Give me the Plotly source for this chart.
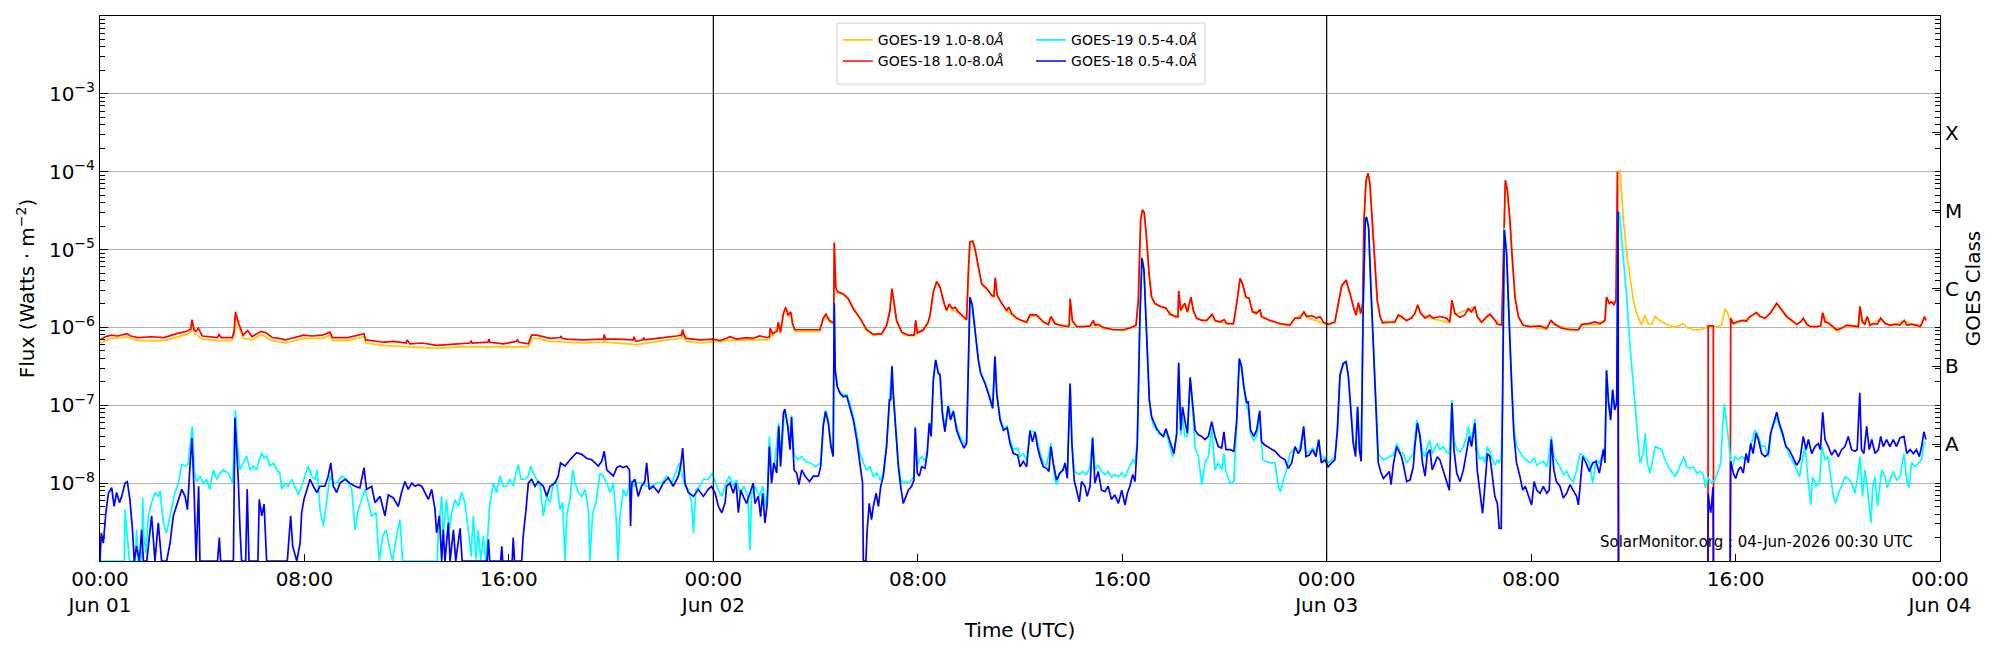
import pandas as pd
import plotly.graph_objects as go

# ---------------------------------------------------------------
# Data: (hours since 2026-06-01 00:00 UTC, log10 flux [W m^-2])
# None marks a data gap.  -9.0 = floor of the plot (values pinned to the bottom edge)
# ---------------------------------------------------------------
START = pd.Timestamp("2026-06-01 00:00")
X_TICK_HOURS = [0, 8, 16, 24, 32, 40, 48, 56, 64, 72]
X_TICK_TEXT = ["00:00<br>Jun 01", "08:00", "16:00", "00:00<br>Jun 02", "08:00", "16:00",
               "00:00<br>Jun 03", "08:00", "16:00", "00:00<br>Jun 04"]
Y_TICK_EXP = [-8, -7, -6, -5, -4, -3]
CLASS_EXP = [-7.5, -6.5, -5.5, -4.5, -3.5]
CLASS_TEXT = ["A", "B", "C", "M", "X"]
DAY_LINES_H = [24, 48]

G19_LONG = [
    (0.00,-6.20),(0.44,-6.14),(1.05,-6.12),(1.50,-6.17),(2.50,-6.17),(3.00,-6.12),(3.40,-6.09),(3.55,-6.06),
    (3.60,-5.94),(3.68,-6.07),(4.00,-6.15),(4.60,-6.17),(5.17,-6.17),(5.25,-6.09),(5.30,-5.84),(5.43,-5.99),
    (5.60,-6.14),(5.95,-6.16),(6.30,-6.09),(6.74,-6.17),(7.27,-6.20),(7.97,-6.14),(8.70,-6.14),(9.00,-6.10),
    (9.10,-6.17),(9.70,-6.17),(10.33,-6.12),(10.40,-6.20),(11.10,-6.23),(12.13,-6.25),(13.17,-6.27),(14.09,-6.25),
    (15.78,-6.25),(16.76,-6.25),(16.89,-6.14),(17.09,-6.14),(17.61,-6.18),(18.26,-6.19),(18.91,-6.20),(19.70,-6.19),
    (19.73,-6.13),(19.78,-6.19),(21.00,-6.22),(22.04,-6.17),(22.56,-6.15),(22.75,-6.14),(22.80,-6.07),(22.85,-6.13),
    (22.93,-6.18),(23.48,-6.20),(24.00,-6.19),(24.52,-6.17),(25.30,-6.16),(26.09,-6.16),(26.20,-6.15),(26.22,-6.04),
    (26.32,-6.11),(26.54,-5.96),(26.63,-6.08),(26.74,-5.84),(26.83,-5.76),(26.93,-5.86),(27.03,-5.82),(27.10,-5.97),
    (27.19,-6.05),(28.17,-6.05),(28.30,-5.90),(28.41,-5.85),(28.54,-5.93),(28.71,-5.96),(28.73,-4.92),(28.79,-5.49),
    (28.85,-5.55),(29.09,-5.58),(29.28,-5.64),(29.48,-5.77),(29.74,-5.89),(30.00,-6.04),(30.26,-6.10),(30.59,-6.09),
    (30.78,-5.98),(30.91,-5.79),(30.99,-5.51),(31.07,-5.70),(31.17,-5.92),(31.37,-6.07),(31.63,-6.11),(31.86,-6.11),
    (31.92,-5.92),(31.98,-6.08),(32.22,-6.04),(32.41,-5.94),(32.48,-5.85),(32.61,-5.55),(32.74,-5.42),(32.87,-5.49),
    (33.03,-5.70),(33.13,-5.79),(33.23,-5.71),(33.35,-5.77),(33.59,-5.81),(33.91,-5.91),(33.98,-5.28),(34.04,-4.91),
    (34.15,-4.90),(34.24,-5.00),(34.37,-5.23),(34.50,-5.45),(34.70,-5.51),(34.98,-5.61),(35.03,-5.37),(35.11,-5.60),
    (35.48,-5.79),(35.87,-5.89),(36.26,-5.94),(36.39,-5.86),(36.65,-5.85),(37.11,-5.97),(37.21,-5.87),(37.37,-5.96),
    (37.89,-6.00),(37.96,-5.64),(38.05,-5.92),(38.22,-6.00),(38.74,-5.99),(38.87,-5.92),(38.93,-5.98),(39.26,-6.01),
    (40.04,-6.04),(40.54,-5.98),(40.63,-5.66),(40.72,-4.63),(40.79,-4.50),(40.86,-4.53),(40.95,-4.85),(41.06,-5.36),
    (41.15,-5.62),(41.28,-5.70),(41.71,-5.76),(42.10,-5.87),(42.18,-5.87),(42.21,-5.54),(42.29,-5.79),(42.45,-5.70),
    (42.55,-5.81),(42.69,-5.62),(42.78,-5.79),(42.91,-5.89),(43.30,-5.92),(43.52,-5.84),(43.63,-5.92),(44.35,-5.96),
    (44.48,-5.70),(44.61,-5.38),(44.71,-5.45),(44.84,-5.62),(44.96,-5.63),(45.10,-5.81),(45.39,-5.78),(45.45,-5.87),
    (46.17,-5.96),(46.56,-5.98),(46.76,-5.89),(47.11,-5.81),(47.22,-5.87),(47.87,-5.94),(48.06,-5.97),(48.32,-5.94),
    (48.45,-5.70),(48.59,-5.47),(48.76,-5.40),(48.91,-5.57),(49.04,-5.74),(49.15,-5.85),(49.24,-5.69),(49.33,-5.83),
    (49.41,-5.70),(49.46,-4.63),(49.54,-4.12),(49.62,-4.03),(49.69,-4.16),(49.79,-4.63),(49.89,-5.19),(49.98,-5.66),
    (50.09,-5.87),(50.19,-5.95),(50.67,-5.94),(50.80,-5.85),(51.13,-5.92),(51.45,-5.83),(51.56,-5.72),(51.68,-5.83),
    (52.17,-5.89),(52.82,-5.94),(52.90,-5.66),(53.02,-5.83),(53.54,-5.77),(53.80,-5.74),(53.89,-5.87),(54.06,-5.94),
    (54.39,-5.84),(54.85,-5.98),(54.91,-5.27),(54.99,-4.12),(55.07,-4.25),(55.17,-4.63),(55.26,-5.11),(55.37,-5.62),
    (55.50,-5.87),(55.69,-5.98),(56.61,-6.02),(56.78,-5.92),(56.93,-5.97),(57.85,-6.04),(57.98,-5.97),(58.70,-5.96),
    (58.89,-5.92),(58.95,-5.62),(59.06,-5.70),(59.32,-5.66),(59.38,-4.02),(59.48,-3.98),(59.61,-4.62),(59.74,-5.05),
    (59.87,-5.35),(60.00,-5.65),(60.13,-5.82),(60.32,-5.97),(60.45,-5.84),(60.58,-5.95),(60.72,-5.96),(60.85,-5.86),
    (61.02,-5.91),(61.30,-5.96),(61.56,-6.00),(61.76,-5.98),(61.96,-5.95),(62.09,-6.00),(62.35,-6.03),(62.61,-6.03),
    (62.87,-6.00),(63.06,-6.00),(63.26,-5.99),(63.46,-5.97),(63.59,-5.76),(63.69,-5.81),(63.81,-5.93),(63.98,-5.95),
    (64.24,-5.92),(64.82,-5.82),(65.15,-5.89),(65.48,-5.77),(65.61,-5.70),(65.71,-5.74),(66.00,-5.87),(66.39,-5.97),
    (66.65,-5.89),(66.94,-6.00),(67.33,-5.99),(67.41,-5.82),(67.63,-5.95),(67.95,-6.05),(68.35,-5.98),(68.80,-6.00),
    (68.87,-5.74),(68.96,-5.94),(69.15,-5.87),(69.26,-5.98),(69.68,-5.89),(70.04,-5.98),(70.60,-5.92),(71.08,-5.98),
    (71.22,-6.00),(71.39,-5.87),(71.45,-5.92),
]

G18_LONG = [
    (0.00,-6.16),(0.20,-6.12),(0.44,-6.10),(0.70,-6.11),(1.05,-6.08),(1.20,-6.11),(1.50,-6.13),(2.00,-6.12),
    (2.50,-6.13),(2.70,-6.11),(3.00,-6.08),(3.40,-6.05),(3.55,-6.02),(3.60,-5.90),(3.68,-6.03),(3.75,-6.05),
    (3.85,-6.01),(4.00,-6.11),(4.30,-6.12),(4.60,-6.13),(4.65,-6.09),(4.75,-6.13),(5.17,-6.13),(5.25,-6.05),
    (5.30,-5.80),(5.43,-5.95),(5.60,-6.10),(5.78,-6.04),(5.95,-6.12),(6.30,-6.05),(6.50,-6.07),(6.74,-6.13),
    (7.00,-6.14),(7.27,-6.16),(7.60,-6.13),(7.97,-6.10),(8.30,-6.11),(8.70,-6.10),(9.00,-6.06),(9.10,-6.13),
    (9.70,-6.13),(10.33,-6.08),(10.40,-6.16),(11.10,-6.19),(11.50,-6.18),(11.98,-6.20),(12.02,-6.16),(12.13,-6.21),
    (12.60,-6.20),(13.17,-6.23),(13.60,-6.22),(14.09,-6.21),(14.48,-6.20),(14.52,-6.17),(14.56,-6.20),(15.18,-6.19),
    (15.22,-6.15),(15.26,-6.19),(15.78,-6.21),(16.28,-6.18),(16.33,-6.16),(16.40,-6.19),(16.76,-6.21),(16.89,-6.10),
    (17.09,-6.10),(17.61,-6.14),(18.00,-6.13),(18.04,-6.11),(18.08,-6.14),(18.26,-6.15),(18.91,-6.16),(19.70,-6.15),
    (19.73,-6.09),(19.78,-6.15),(20.22,-6.15),(20.86,-6.16),(20.90,-6.12),(20.95,-6.17),(21.00,-6.18),(21.24,-6.16),
    (21.28,-6.13),(21.32,-6.16),(21.52,-6.15),(22.04,-6.13),(22.56,-6.11),(22.75,-6.10),(22.80,-6.03),(22.85,-6.09),
    (22.93,-6.14),(23.48,-6.16),(24.00,-6.15),(24.26,-6.17),(24.52,-6.14),(24.65,-6.12),(24.91,-6.15),(25.30,-6.13),
    (25.56,-6.14),(25.82,-6.11),(26.09,-6.13),(26.20,-6.12),(26.22,-6.01),(26.32,-6.08),(26.50,-6.05),(26.54,-5.93),
    (26.63,-6.06),(26.74,-5.82),(26.83,-5.74),(26.93,-5.84),(27.03,-5.80),(27.10,-5.95),(27.19,-6.03),(27.52,-6.03),
    (28.17,-6.03),(28.30,-5.88),(28.41,-5.83),(28.54,-5.91),(28.67,-5.94),(28.71,-5.94),(28.73,-4.91),(28.79,-5.48),
    (28.85,-5.54),(29.09,-5.57),(29.28,-5.63),(29.48,-5.76),(29.74,-5.88),(30.00,-6.03),(30.26,-6.09),(30.59,-6.08),
    (30.78,-5.97),(30.91,-5.78),(30.99,-5.50),(31.07,-5.69),(31.17,-5.91),(31.37,-6.06),(31.63,-6.10),(31.86,-6.10),
    (31.92,-5.91),(31.98,-6.07),(32.22,-6.03),(32.41,-5.93),(32.48,-5.84),(32.61,-5.54),(32.74,-5.41),(32.87,-5.48),
    (33.03,-5.69),(33.13,-5.78),(33.23,-5.70),(33.35,-5.76),(33.46,-5.74),(33.59,-5.80),(33.78,-5.86),(33.91,-5.90),
    (33.98,-5.27),(34.04,-4.90),(34.15,-4.89),(34.24,-4.99),(34.37,-5.22),(34.50,-5.44),(34.70,-5.50),(34.89,-5.59),
    (34.98,-5.60),(35.03,-5.36),(35.11,-5.59),(35.28,-5.69),(35.48,-5.78),(35.57,-5.74),(35.67,-5.82),(35.87,-5.88),
    (36.06,-5.91),(36.26,-5.93),(36.39,-5.84),(36.65,-5.84),(36.91,-5.93),(37.11,-5.96),(37.21,-5.86),(37.37,-5.95),
    (37.56,-5.97),(37.89,-5.99),(37.93,-5.97),(37.96,-5.63),(38.05,-5.91),(38.22,-5.99),(38.48,-5.99),(38.74,-5.98),
    (38.87,-5.91),(38.93,-5.97),(39.06,-5.96),(39.26,-6.00),(39.65,-6.03),(40.04,-6.03),(40.37,-6.00),(40.54,-5.97),
    (40.63,-5.65),(40.72,-4.62),(40.79,-4.49),(40.86,-4.52),(40.95,-4.84),(41.06,-5.35),(41.15,-5.61),(41.28,-5.69),
    (41.48,-5.73),(41.71,-5.75),(41.87,-5.83),(42.10,-5.86),(42.18,-5.86),(42.21,-5.53),(42.29,-5.78),(42.36,-5.73),
    (42.45,-5.69),(42.55,-5.80),(42.69,-5.61),(42.78,-5.78),(42.91,-5.88),(43.11,-5.91),(43.30,-5.91),(43.52,-5.83),
    (43.63,-5.91),(43.82,-5.93),(43.99,-5.90),(44.09,-5.95),(44.35,-5.95),(44.48,-5.69),(44.61,-5.37),(44.71,-5.44),
    (44.84,-5.61),(44.96,-5.62),(45.10,-5.80),(45.26,-5.82),(45.39,-5.77),(45.45,-5.86),(45.78,-5.91),(46.17,-5.95),
    (46.56,-5.97),(46.76,-5.88),(46.96,-5.88),(47.11,-5.80),(47.22,-5.86),(47.41,-5.85),(47.61,-5.88),(47.74,-5.86),
    (47.87,-5.93),(48.06,-5.96),(48.32,-5.93),(48.45,-5.69),(48.59,-5.46),(48.76,-5.39),(48.89,-5.52),(48.91,-5.56),
    (49.04,-5.73),(49.15,-5.84),(49.24,-5.68),(49.33,-5.82),(49.41,-5.69),(49.46,-4.62),(49.54,-4.11),(49.62,-4.02),
    (49.69,-4.15),(49.79,-4.62),(49.89,-5.18),(49.98,-5.65),(50.09,-5.86),(50.19,-5.94),(50.35,-5.93),(50.67,-5.93),
    (50.80,-5.84),(50.93,-5.86),(51.13,-5.91),(51.32,-5.88),(51.45,-5.82),(51.56,-5.71),(51.68,-5.82),(51.85,-5.88),
    (52.02,-5.84),(52.17,-5.88),(52.43,-5.86),(52.69,-5.88),(52.82,-5.93),(52.90,-5.65),(53.02,-5.82),(53.22,-5.87),
    (53.41,-5.84),(53.54,-5.76),(53.67,-5.80),(53.80,-5.73),(53.89,-5.86),(54.06,-5.93),(54.26,-5.86),(54.39,-5.83),
    (54.52,-5.88),(54.68,-5.96),(54.85,-5.97),(54.91,-5.26),(54.99,-4.11),(55.07,-4.24),(55.17,-4.62),(55.26,-5.10),
    (55.37,-5.61),(55.50,-5.86),(55.69,-5.97),(55.96,-5.99),(56.35,-5.98),(56.61,-6.01),(56.78,-5.91),(56.93,-5.96),
    (57.19,-6.01),(57.52,-6.03),(57.85,-6.03),(57.98,-5.96),(58.24,-5.95),(58.50,-5.93),(58.70,-5.95),(58.89,-5.91),
    (58.95,-5.61),(59.06,-5.69),(59.15,-5.67),(59.24,-5.71),(59.32,-5.65),(59.38,-4.00),(59.42,-9.00),(59.43,None),
    (62.92,-9.00),(62.93,-5.98),(63.13,-5.98),(63.14,-9.00),(63.15,None),
    (63.79,-9.00),(63.81,-5.88),(63.91,-5.95),(64.04,-5.93),(64.24,-5.91),(64.43,-5.92),(64.56,-5.86),(64.69,-5.84),
    (64.82,-5.81),(64.96,-5.86),(65.15,-5.88),(65.35,-5.82),(65.48,-5.76),(65.61,-5.69),(65.71,-5.73),(65.87,-5.80),
    (66.00,-5.86),(66.20,-5.91),(66.39,-5.96),(66.55,-5.93),(66.65,-5.88),(66.78,-5.96),(66.94,-5.99),(67.17,-5.99),
    (67.33,-5.98),(67.41,-5.81),(67.50,-5.93),(67.63,-5.94),(67.80,-5.99),(67.95,-6.03),(68.15,-6.01),(68.35,-5.97),
    (68.61,-5.98),(68.80,-5.99),(68.87,-5.73),(68.96,-5.93),(69.06,-5.96),(69.15,-5.86),(69.26,-5.97),(69.39,-5.95),
    (69.55,-5.96),(69.68,-5.88),(69.85,-5.95),(70.04,-5.97),(70.24,-5.96),(70.43,-5.97),(70.60,-5.91),(70.70,-5.97),
    (70.89,-5.96),(71.08,-5.97),(71.22,-5.99),(71.32,-5.93),(71.39,-5.86),(71.45,-5.91),
]

G19_SHORT = [
    (0.00,-9.00),(0.95,-9.00),(0.98,-8.34),(1.04,-8.60),(1.15,-9.00),(1.38,-9.00),(1.43,-8.60),(1.50,-9.00),
    (1.63,-9.00),(1.67,-8.19),(1.72,-8.70),(1.80,-8.90),(1.89,-8.42),(2.02,-8.25),(2.15,-8.12),(2.28,-8.17),
    (2.35,-8.10),(2.48,-8.51),(2.60,-8.64),(2.74,-8.42),(2.93,-8.12),(3.07,-8.00),(3.20,-7.76),(3.37,-7.78),
    (3.46,-7.74),(3.55,-7.44),(3.61,-7.27),(3.69,-7.83),(3.78,-7.98),(3.91,-7.91),(4.04,-8.00),(4.17,-7.95),
    (4.30,-8.08),(4.43,-7.83),(4.57,-7.95),(4.70,-7.87),(4.83,-7.83),(5.02,-7.87),(5.19,-8.00),(5.30,-7.06),
    (5.37,-7.48),(5.48,-7.83),(5.61,-7.74),(5.74,-7.65),(5.87,-7.83),(6.00,-7.78),(6.13,-7.83),(6.23,-7.70),
    (6.33,-7.61),(6.42,-7.68),(6.52,-7.65),(6.65,-7.78),(6.78,-7.74),(6.91,-7.83),(7.04,-7.87),(7.11,-8.08),
    (7.24,-8.00),(7.37,-8.04),(7.50,-7.95),(7.63,-8.04),(7.76,-8.15),(7.89,-8.04),(8.02,-7.91),(8.15,-7.78),
    (8.28,-7.91),(8.41,-7.95),(8.50,-7.83),(8.61,-8.34),(8.74,-8.55),(8.87,-8.25),(9.00,-7.91),(9.13,-8.00),
    (9.26,-8.00),(9.46,-7.91),(9.65,-7.95),(9.85,-8.08),(9.98,-8.60),(10.11,-8.34),(10.24,-8.21),(10.37,-8.08),
    (10.50,-8.25),(10.63,-8.42),(10.80,-8.38),(10.93,-9.00),(11.06,-8.68),(11.19,-8.60),(11.32,-8.81),(11.45,-9.00),
    (11.60,-8.68),(11.74,-8.47),(11.84,-9.00),(13.20,-9.00),(13.24,-8.60),(13.37,-8.17),(13.43,-8.68),(13.56,-8.21),
    (13.66,-8.60),(13.76,-8.38),(13.89,-8.21),(14.02,-8.30),(14.15,-8.12),(14.28,-8.25),(14.41,-8.60),(14.52,-8.94),
    (14.61,-8.42),(14.71,-8.98),(14.80,-8.60),(14.90,-9.00),(15.00,-8.68),(15.10,-9.00),(15.26,-8.25),(15.39,-8.00),
    (15.52,-8.12),(15.65,-7.91),(15.78,-8.04),(15.91,-8.04),(16.04,-7.95),(16.17,-8.04),(16.28,-7.87),(16.37,-7.76),
    (16.47,-7.95),(16.63,-7.95),(16.76,-7.91),(16.85,-7.78),(16.96,-7.87),(17.09,-7.95),(17.22,-8.04),(17.35,-8.42),
    (17.48,-8.17),(17.61,-8.25),(17.74,-8.00),(17.87,-7.98),(18.00,-8.34),(18.10,-8.25),(18.20,-9.00),(18.26,-8.42),
    (18.39,-8.21),(18.50,-7.83),(18.59,-8.00),(18.72,-8.12),(18.85,-8.17),(18.98,-8.08),(19.11,-8.34),(19.17,-9.00),
    (19.28,-8.38),(19.41,-8.25),(19.56,-7.87),(19.69,-7.91),(19.83,-8.00),(19.96,-8.12),(20.09,-8.00),(20.19,-8.42),
    (20.27,-9.00),(20.35,-8.42),(20.48,-8.08),(20.61,-8.17),(20.74,-7.95),(20.87,-8.04),(21.00,-8.00),(21.19,-8.00),
    (21.39,-8.04),(21.59,-8.04),(21.78,-8.00),(21.98,-8.00),(22.17,-7.91),(22.37,-8.00),(22.56,-7.83),(22.67,-7.74),
    (22.76,-7.87),(22.89,-8.04),(23.02,-8.08),(23.15,-8.25),(23.22,-8.64),(23.32,-8.08),(23.48,-8.04),(23.61,-7.95),
    (23.80,-7.95),(23.97,-7.87),(24.13,-8.04),(24.33,-8.17),(24.46,-8.04),(24.62,-7.91),(24.78,-8.04),(24.91,-7.96),
    (25.04,-8.13),(25.20,-8.04),(25.35,-8.17),(25.43,-8.86),(25.50,-8.13),(25.63,-8.04),(25.80,-8.17),(25.93,-8.04),
    (26.05,-8.30),(26.12,-8.09),(26.19,-7.40),(26.30,-7.87),(26.40,-7.74),(26.56,-7.23),(26.65,-7.74),(26.78,-7.06),
    (26.93,-7.27),(27.00,-7.53),(27.06,-7.13),(27.16,-7.62),(27.30,-7.70),(27.45,-7.66),(27.60,-7.72),(27.80,-7.74),
    (28.00,-7.79),(28.20,-7.74),(28.30,-7.23),(28.39,-7.06),(28.50,-7.19),(28.60,-7.49),(28.69,-7.57),(28.73,-5.70),
    (28.77,-6.55),(28.85,-6.76),(28.96,-6.83),(29.09,-6.87),(29.22,-6.86),(29.35,-6.98),(29.48,-7.15),(29.61,-7.36),
    (29.74,-7.62),(29.87,-7.74),(30.00,-7.83),(30.13,-7.79),(30.26,-7.91),(30.40,-7.87),(30.52,-7.96),(30.65,-7.87),
    (30.78,-7.49),(30.89,-6.91),(30.99,-6.49),(31.04,-6.83),(31.15,-7.40),(31.24,-7.74),(31.33,-7.96),(31.43,-8.00),
    (31.54,-7.98),(31.63,-8.00),(31.76,-7.96),(31.85,-7.91),(31.90,-7.27),(31.98,-7.79),(32.06,-7.70),(32.15,-7.66),
    (32.28,-7.72),(32.37,-7.57),(32.45,-7.23),(32.52,-7.36),(32.61,-6.65),(32.70,-6.41),(32.80,-6.57),(32.87,-6.59),
    (32.96,-7.06),(33.06,-7.30),(33.19,-6.99),(33.28,-7.15),(33.39,-7.06),(33.52,-7.27),(33.65,-7.40),(33.81,-7.49),
    (33.91,-7.47),(33.98,-6.55),(34.04,-5.62),(34.13,-5.72),(34.24,-6.03),(34.37,-6.41),(34.46,-6.58),(34.63,-6.70),
    (34.80,-6.87),(34.93,-7.02),(35.02,-6.38),(35.09,-6.83),(35.22,-7.15),(35.35,-7.30),(35.50,-7.27),(35.61,-7.45),
    (35.74,-7.57),(35.91,-7.55),(36.00,-7.66),(36.13,-7.62),(36.26,-7.70),(36.39,-7.32),(36.52,-7.34),(36.63,-7.38),
    (36.75,-7.57),(36.91,-7.74),(37.04,-7.77),(37.21,-7.49),(37.30,-7.74),(37.37,-7.96),(37.43,-8.02),(37.56,-7.87),
    (37.76,-7.77),(37.85,-7.89),(37.96,-6.72),(38.03,-7.45),(38.12,-7.85),(38.22,-7.87),(38.32,-7.89),(38.45,-7.85),
    (38.60,-7.89),(38.74,-7.79),(38.84,-7.40),(38.93,-7.83),(39.06,-7.77),(39.19,-7.85),(39.32,-7.89),(39.45,-7.85),
    (39.58,-7.92),(39.71,-7.89),(39.85,-7.92),(39.98,-7.87),(40.11,-7.92),(40.20,-7.85),(40.30,-7.77),(40.41,-7.70),
    (40.50,-7.74),(40.59,-7.45),(40.69,-5.90),(40.77,-5.10),(40.85,-5.25),(40.95,-6.10),(41.06,-6.92),(41.15,-7.17),
    (41.24,-7.27),(41.35,-7.32),(41.48,-7.38),(41.61,-7.40),(41.71,-7.32),(41.80,-7.45),(41.97,-7.66),(42.02,-7.62),
    (42.13,-7.40),(42.21,-6.47),(42.29,-7.38),(42.36,-7.15),(42.45,-7.40),(42.55,-7.40),(42.66,-6.66),(42.76,-7.06),
    (42.85,-7.55),(42.98,-7.66),(43.11,-8.02),(43.24,-7.74),(43.37,-7.66),(43.50,-7.30),(43.63,-7.83),(43.76,-7.74),
    (43.89,-7.83),(43.98,-7.62),(44.06,-7.85),(44.22,-8.00),(44.37,-7.98),(44.48,-7.21),(44.58,-6.42),(44.67,-6.55),
    (44.76,-6.80),(44.87,-7.02),(44.93,-7.06),(45.02,-7.36),(45.15,-7.45),(45.26,-7.40),(45.38,-7.15),(45.50,-7.70),
    (45.60,-7.72),(45.78,-7.74),(45.98,-7.74),(46.10,-8.04),(46.20,-8.11),(46.30,-7.96),(46.43,-7.83),(46.56,-7.62),
    (46.76,-7.55),(46.89,-7.62),(47.10,-7.30),(47.19,-7.62),(47.32,-7.60),(47.45,-7.55),(47.58,-7.62),(47.69,-7.45),
    (47.79,-7.70),(47.93,-7.66),(48.06,-7.74),(48.19,-7.70),(48.32,-7.66),(48.42,-7.30),(48.52,-6.62),(48.65,-6.47),
    (48.76,-6.45),(48.85,-6.62),(48.95,-7.13),(49.04,-7.45),(49.13,-7.60),(49.21,-7.02),(49.28,-7.53),(49.35,-7.66),
    (49.43,-5.72),(49.51,-4.64),(49.56,-4.60),(49.64,-4.73),(49.73,-5.50),(49.82,-6.13),(49.93,-6.95),(50.02,-7.62),
    (50.11,-7.66),(50.22,-7.70),(50.35,-7.68),(50.45,-7.66),(50.61,-7.64),(50.74,-7.49),(50.87,-7.60),(51.00,-7.62),
    (51.13,-7.74),(51.26,-7.68),(51.39,-7.62),(51.45,-7.45),(51.52,-7.19),(51.65,-7.36),(51.75,-7.60),(51.85,-7.66),
    (51.94,-7.53),(52.04,-7.45),(52.13,-7.62),(52.24,-7.55),(52.33,-7.49),(52.43,-7.57),(52.56,-7.53),(52.69,-7.60),
    (52.80,-7.62),(52.90,-6.93),(52.98,-7.45),(53.09,-7.57),(53.22,-7.60),(53.35,-7.53),(53.48,-7.40),(53.54,-7.27),
    (53.67,-7.45),(53.80,-7.17),(53.89,-7.57),(54.00,-7.70),(54.10,-7.66),(54.19,-7.74),(54.29,-7.53),(54.39,-7.60),
    (54.49,-7.70),(54.58,-7.77),(54.68,-7.70),(54.75,-7.74),(54.83,-7.66),(54.89,-6.95),(54.95,-4.72),(55.04,-5.03),
    (55.13,-5.88),(55.24,-6.72),(55.33,-7.32),(55.43,-7.53),(55.56,-7.60),(55.67,-7.66),(55.80,-7.70),(55.96,-7.74),
    (56.12,-7.68),(56.22,-7.77),(56.35,-7.74),(56.48,-7.72),(56.61,-7.79),(56.71,-7.62),(56.79,-7.40),(56.89,-7.66),
    (57.00,-7.72),(57.13,-7.79),(57.26,-7.89),(57.39,-7.85),(57.52,-7.94),(57.65,-7.98),(57.78,-7.83),(57.91,-7.62),
    (58.02,-7.64),(58.15,-7.68),(58.28,-7.74),(58.41,-8.00),(58.54,-7.70),(58.67,-7.74),(58.76,-7.66),(58.83,-7.55),
    (58.89,-7.62),(58.95,-6.55),(59.03,-6.95),(59.11,-7.15),(59.19,-6.80),(59.27,-7.02),(59.35,-6.95),(59.40,-4.55),
    (59.45,-4.52),(59.58,-4.97),(59.74,-5.61),(59.84,-6.12),(59.93,-6.47),(60.06,-6.97),(60.17,-7.36),(60.26,-7.74),
    (60.39,-7.62),(60.46,-7.36),(60.55,-7.74),(60.65,-7.87),(60.76,-7.70),(60.85,-7.53),(60.98,-7.55),(61.11,-7.57),
    (61.24,-7.70),(61.37,-7.79),(61.50,-7.85),(61.63,-7.92),(61.76,-7.83),(61.89,-7.74),(61.98,-7.66),(62.09,-7.79),
    (62.22,-7.81),(62.35,-7.79),(62.48,-7.87),(62.61,-7.85),(62.74,-7.89),(62.82,-8.06),(62.93,-7.92),(63.06,-8.00),
    (63.19,-7.96),(63.33,-7.83),(63.42,-7.74),(63.48,-7.36),(63.56,-6.98),(63.65,-7.23),(63.76,-7.53),(63.85,-7.83),
    (63.98,-7.66),(64.11,-7.70),(64.24,-7.66),(64.43,-7.70),(64.56,-7.57),(64.76,-7.32),(64.85,-7.36),(65.02,-7.53),
    (65.15,-7.52),(65.28,-7.66),(65.41,-7.32),(65.61,-7.15),(65.80,-7.36),(65.97,-7.53),(66.13,-7.66),(66.28,-7.74),
    (66.39,-7.83),(66.50,-7.92),(66.59,-7.74),(66.72,-7.53),(66.81,-7.87),(66.89,-8.15),(66.94,-8.28),(67.02,-7.92),
    (67.15,-8.04),(67.28,-8.00),(67.38,-7.53),(67.50,-7.70),(67.63,-7.66),(67.72,-7.92),(67.83,-8.17),(67.92,-8.26),
    (68.02,-8.13),(68.15,-8.04),(68.28,-7.92),(68.41,-7.94),(68.54,-8.00),(68.67,-8.13),(68.76,-7.96),(68.87,-7.66),
    (68.97,-8.17),(69.06,-7.83),(69.15,-8.04),(69.23,-8.30),(69.30,-8.51),(69.37,-8.04),(69.46,-7.92),(69.55,-8.30),
    (69.63,-8.09),(69.72,-7.83),(69.85,-7.92),(69.94,-8.06),(70.04,-7.96),(70.17,-7.85),(70.30,-7.96),(70.43,-7.92),
    (70.59,-7.62),(70.70,-7.96),(70.78,-8.06),(70.89,-7.74),(71.02,-7.79),(71.15,-7.74),(71.28,-7.70),(71.37,-7.49),
    (71.45,-7.47),
]

G18_SHORT = [
    (0.00,-9.00),(0.05,-8.64),(0.13,-8.77),(0.23,-8.38),(0.33,-8.13),(0.46,-8.06),(0.55,-8.30),(0.65,-8.12),
    (0.76,-8.25),(0.85,-8.17),(0.98,-8.00),(1.07,-7.98),(1.17,-8.21),(1.27,-8.60),(1.34,-9.00),(1.43,-8.81),
    (1.54,-9.00),(1.63,-8.60),(1.70,-9.00),(1.83,-9.00),(2.02,-8.42),(2.15,-9.00),(2.28,-8.51),(2.41,-9.00),
    (2.61,-9.00),(2.74,-8.77),(2.87,-8.42),(3.03,-8.25),(3.20,-8.08),(3.33,-8.17),(3.42,-8.34),(3.52,-7.78),
    (3.60,-7.42),(3.68,-8.08),(3.76,-9.00),(3.86,-8.04),(3.91,-9.00),(4.60,-9.00),(4.67,-8.70),(4.72,-9.00),
    (5.22,-9.00),(5.28,-7.16),(5.35,-7.53),(5.41,-7.95),(5.48,-8.60),(5.54,-9.00),(5.70,-9.00),(5.76,-8.08),
    (5.83,-9.00),(6.18,-9.00),(6.23,-8.21),(6.33,-8.42),(6.42,-8.27),(6.52,-9.00),(7.33,-9.00),(7.46,-8.42),
    (7.54,-8.81),(7.70,-9.00),(7.83,-8.77),(7.89,-8.38),(7.98,-8.21),(8.09,-8.08),(8.22,-7.95),(8.35,-8.04),
    (8.48,-8.12),(8.61,-8.04),(8.80,-8.04),(8.93,-7.91),(9.03,-7.74),(9.13,-8.04),(9.26,-8.12),(9.39,-8.00),
    (9.59,-7.95),(9.78,-8.00),(9.98,-8.04),(10.17,-8.06),(10.33,-7.80),(10.43,-8.08),(10.63,-8.04),(10.76,-8.25),
    (10.96,-8.17),(11.15,-8.42),(11.28,-8.15),(11.48,-8.19),(11.67,-8.30),(11.80,-8.12),(11.93,-7.98),(12.06,-8.08),
    (12.20,-8.00),(12.33,-8.04),(12.46,-8.02),(12.59,-8.04),(12.72,-8.12),(12.85,-8.21),(12.98,-8.08),(13.11,-8.34),
    (13.17,-8.64),(13.28,-8.42),(13.37,-9.00),(13.43,-8.60),(13.50,-9.00),(13.63,-8.51),(13.70,-9.00),(13.83,-8.60),
    (13.92,-9.00),(14.09,-8.58),(14.17,-9.00),(15.15,-9.00),(15.20,-8.72),(15.25,-9.00),(15.68,-9.00),(15.72,-8.81),
    (15.76,-9.00),(16.13,-9.00),(16.17,-8.70),(16.22,-9.00),(16.50,-9.00),(16.56,-8.68),(16.67,-8.34),(16.76,-8.00),
    (16.89,-7.95),(17.02,-8.04),(17.15,-7.98),(17.35,-8.04),(17.48,-8.17),(17.61,-8.04),(17.80,-8.00),(17.93,-7.91),
    (18.02,-7.74),(18.20,-7.78),(18.39,-7.70),(18.52,-7.65),(18.65,-7.61),(18.85,-7.63),(19.04,-7.68),(19.24,-7.70),
    (19.37,-7.74),(19.50,-7.78),(19.63,-7.72),(19.73,-7.59),(19.83,-7.83),(19.96,-7.87),(20.09,-7.91),(20.22,-7.80),
    (20.35,-7.78),(20.48,-7.80),(20.61,-7.78),(20.72,-7.83),(20.76,-8.55),(20.81,-8.00),(20.93,-7.95),(21.06,-8.17),
    (21.19,-8.04),(21.32,-7.98),(21.39,-7.74),(21.49,-8.08),(21.65,-8.04),(21.85,-8.12),(22.04,-8.00),(22.24,-7.93),
    (22.43,-8.04),(22.63,-7.91),(22.72,-7.78),(22.80,-7.55),(22.89,-8.00),(23.02,-8.12),(23.22,-8.17),(23.41,-8.08),
    (23.61,-8.17),(23.80,-8.08),(23.93,-8.04),(24.06,-8.12),(24.20,-8.30),(24.33,-8.38),(24.46,-8.25),(24.52,-8.04),
    (24.65,-8.00),(24.78,-8.13),(24.89,-8.00),(24.98,-8.38),(25.07,-8.09),(25.17,-8.17),(25.30,-8.26),(25.43,-8.13),
    (25.56,-8.00),(25.63,-8.26),(25.76,-8.17),(25.85,-8.43),(25.93,-8.13),(26.02,-8.51),(26.11,-8.26),(26.19,-7.53),
    (26.28,-8.00),(26.37,-7.74),(26.48,-7.87),(26.56,-7.27),(26.63,-7.79),(26.74,-7.10),(26.80,-7.05),(26.91,-7.27),
    (27.00,-7.57),(27.06,-7.15),(27.16,-7.83),(27.26,-7.87),(27.35,-8.02),(27.46,-7.83),(27.59,-7.91),(27.76,-7.98),
    (27.91,-7.91),(28.11,-7.91),(28.20,-7.79),(28.30,-7.27),(28.39,-7.08),(28.50,-7.23),(28.60,-7.53),(28.69,-7.66),
    (28.73,-5.69),(28.77,-6.55),(28.85,-6.76),(28.96,-6.85),(29.09,-6.89),(29.22,-6.88),(29.35,-7.02),(29.48,-7.19),
    (29.61,-7.44),(29.74,-7.79),(29.84,-8.00),(29.87,-9.00),(29.97,-9.00),(30.02,-8.60),(30.10,-8.26),(30.19,-8.47),
    (30.26,-8.30),(30.37,-8.13),(30.46,-8.30),(30.55,-8.04),(30.65,-7.91),(30.78,-7.53),(30.89,-6.93),(30.94,-6.93),
    (30.99,-6.50),(31.04,-6.85),(31.15,-7.44),(31.24,-7.79),(31.33,-8.04),(31.43,-8.26),(31.54,-8.17),(31.63,-8.09),
    (31.76,-8.04),(31.85,-7.96),(31.90,-7.29),(31.98,-7.87),(32.06,-7.91),(32.15,-7.79),(32.28,-7.81),(32.37,-7.62),
    (32.45,-7.23),(32.52,-7.40),(32.61,-6.67),(32.70,-6.42),(32.80,-6.59),(32.87,-6.61),(32.96,-7.10),(33.06,-7.34),
    (33.19,-7.01),(33.28,-7.19),(33.39,-7.08),(33.52,-7.32),(33.65,-7.44),(33.81,-7.55),(33.91,-7.49),(33.98,-6.55),
    (34.04,-5.61),(34.13,-5.71),(34.24,-6.03),(34.37,-6.42),(34.46,-6.59),(34.63,-6.72),(34.80,-6.89),(34.93,-7.04),
    (35.02,-6.37),(35.09,-6.85),(35.22,-7.19),(35.35,-7.32),(35.50,-7.29),(35.61,-7.49),(35.74,-7.62),(35.91,-7.64),
    (36.00,-7.79),(36.13,-7.72),(36.26,-7.79),(36.39,-7.33),(36.49,-7.47),(36.59,-7.34),(36.68,-7.53),(36.78,-7.66),
    (36.91,-7.79),(37.04,-7.81),(37.13,-7.85),(37.21,-7.53),(37.30,-7.74),(37.43,-7.96),(37.56,-7.87),(37.69,-7.83),
    (37.76,-7.74),(37.85,-7.94),(37.96,-6.72),(38.03,-7.49),(38.12,-7.96),(38.22,-8.09),(38.32,-8.24),(38.41,-7.98),
    (38.54,-8.04),(38.63,-8.17),(38.74,-8.04),(38.84,-7.42),(38.93,-8.00),(39.06,-7.85),(39.19,-8.09),(39.32,-8.11),
    (39.45,-8.04),(39.58,-8.21),(39.71,-8.15),(39.85,-8.26),(39.98,-8.09),(40.11,-8.28),(40.20,-8.13),(40.30,-8.04),
    (40.41,-7.89),(40.50,-7.98),(40.59,-7.49),(40.69,-5.91),(40.77,-5.11),(40.85,-5.26),(40.95,-6.12),(41.06,-6.93),
    (41.15,-7.15),(41.24,-7.23),(41.35,-7.30),(41.48,-7.36),(41.61,-7.40),(41.71,-7.30),(41.80,-7.40),(41.93,-7.53),
    (42.02,-7.62),(42.13,-7.36),(42.21,-6.45),(42.29,-7.32),(42.36,-7.02),(42.45,-7.19),(42.55,-7.36),(42.66,-6.64),
    (42.76,-6.97),(42.85,-7.32),(42.98,-7.38),(43.11,-7.40),(43.24,-7.44),(43.37,-7.40),(43.50,-7.21),(43.63,-7.40),
    (43.76,-7.53),(43.89,-7.55),(43.98,-7.34),(44.06,-7.57),(44.22,-7.57),(44.37,-7.59),(44.48,-7.19),(44.58,-6.40),
    (44.67,-6.50),(44.76,-6.76),(44.87,-6.97),(44.93,-6.95),(45.02,-7.32),(45.15,-7.40),(45.26,-7.32),(45.38,-7.07),
    (45.45,-7.47),(45.58,-7.51),(45.78,-7.55),(45.98,-7.59),(46.17,-7.66),(46.37,-7.70),(46.50,-7.81),(46.63,-7.74),
    (46.76,-7.53),(46.89,-7.62),(46.98,-7.57),(47.10,-7.27),(47.19,-7.66),(47.32,-7.64),(47.45,-7.57),(47.58,-7.66),
    (47.69,-7.44),(47.79,-7.74),(47.93,-7.70),(48.06,-7.79),(48.19,-7.74),(48.32,-7.70),(48.42,-7.32),(48.52,-6.61),
    (48.65,-6.46),(48.76,-6.44),(48.85,-6.63),(48.95,-7.15),(49.04,-7.49),(49.13,-7.66),(49.21,-7.02),(49.28,-7.57),
    (49.35,-7.72),(49.43,-5.69),(49.51,-4.62),(49.56,-4.58),(49.64,-4.71),(49.73,-5.48),(49.82,-6.12),(49.93,-6.97),
    (50.02,-7.74),(50.11,-7.85),(50.22,-7.94),(50.35,-7.89),(50.45,-7.85),(50.52,-8.02),(50.61,-7.76),(50.74,-7.53),
    (50.85,-7.62),(50.93,-7.66),(51.02,-7.79),(51.13,-7.98),(51.26,-7.96),(51.39,-7.79),(51.45,-7.53),(51.55,-7.23),
    (51.65,-7.40),(51.75,-7.74),(51.85,-7.91),(51.94,-7.62),(52.04,-7.57),(52.13,-7.83),(52.24,-7.74),(52.33,-7.66),
    (52.43,-7.70),(52.56,-7.83),(52.69,-7.96),(52.80,-8.09),(52.90,-6.97),(52.98,-7.57),(53.09,-7.87),(53.22,-7.98),
    (53.35,-7.83),(53.48,-7.57),(53.58,-7.40),(53.67,-7.53),(53.80,-7.23),(53.89,-7.83),(54.00,-8.09),(54.10,-8.39),
    (54.19,-8.04),(54.29,-7.62),(54.39,-7.66),(54.49,-7.91),(54.58,-8.17),(54.68,-8.26),(54.75,-8.58),(54.83,-8.58),
    (54.89,-6.97),(54.95,-4.75),(55.04,-5.05),(55.13,-5.91),(55.24,-6.76),(55.33,-7.40),(55.43,-7.74),(55.56,-7.91),
    (55.67,-8.09),(55.77,-8.04),(55.89,-8.17),(56.02,-8.28),(56.12,-7.98),(56.22,-8.09),(56.35,-8.13),(56.48,-8.04),
    (56.61,-8.13),(56.71,-8.09),(56.79,-7.44),(56.89,-7.83),(56.99,-7.98),(57.13,-8.04),(57.26,-8.19),(57.39,-8.13),
    (57.52,-8.02),(57.65,-8.09),(57.78,-8.17),(57.85,-8.28),(57.91,-8.04),(58.02,-7.66),(58.15,-7.74),(58.28,-7.85),
    (58.41,-7.74),(58.54,-7.72),(58.67,-7.87),(58.76,-7.70),(58.83,-7.57),(58.89,-7.74),(58.95,-6.55),(59.03,-6.97),
    (59.11,-7.19),(59.19,-6.80),(59.27,-7.06),(59.35,-6.97),(59.40,-4.51),(59.42,-9.00),(59.43,None),
    (62.92,-9.00),(62.93,-8.13),(62.98,-8.30),(63.03,-8.38),(63.08,-8.20),(63.12,-8.05),(63.13,-9.00),(63.14,None),
    (63.79,-9.00),(63.81,-7.72),(63.91,-7.87),(64.00,-7.94),(64.11,-7.83),(64.20,-7.79),(64.30,-7.87),(64.41,-7.62),
    (64.50,-7.74),(64.59,-7.49),(64.69,-7.62),(64.80,-7.36),(64.89,-7.44),(65.02,-7.62),(65.15,-7.66),(65.28,-7.62),
    (65.37,-7.36),(65.48,-7.23),(65.61,-7.09),(65.71,-7.23),(65.84,-7.36),(65.97,-7.53),(66.10,-7.57),(66.23,-7.66),
    (66.39,-7.77),(66.52,-7.70),(66.65,-7.40),(66.76,-7.57),(66.85,-7.44),(66.98,-7.62),(67.11,-7.53),(67.24,-7.49),
    (67.32,-7.57),(67.41,-7.09),(67.50,-7.44),(67.63,-7.53),(67.76,-7.64),(67.89,-7.57),(68.02,-7.66),(68.15,-7.57),
    (68.28,-7.53),(68.41,-7.40),(68.54,-7.57),(68.67,-7.59),(68.76,-7.57),(68.86,-6.84),(68.93,-7.57),(69.02,-7.62),
    (69.13,-7.27),(69.23,-7.57),(69.33,-7.44),(69.46,-7.62),(69.59,-7.57),(69.68,-7.40),(69.78,-7.53),(69.91,-7.44),
    (70.04,-7.53),(70.17,-7.44),(70.30,-7.53),(70.43,-7.42),(70.59,-7.40),(70.70,-7.62),(70.83,-7.57),(70.96,-7.62),
    (71.08,-7.57),(71.19,-7.66),(71.28,-7.53),(71.37,-7.34),(71.45,-7.44),
]

# (label, data, colour, legend, y-axis) -- the last series is drawn against the
# right-hand GOES-class axis, which shares the identical log range with the left one.
SERIES = [
    ("GOES-19 1.0-8.0<i>Å</i>", G19_LONG, "#FFC800", "legend", "y"),
    ("GOES-18 1.0-8.0<i>Å</i>", G18_LONG, "#FF0000", "legend", "y"),
    ("GOES-19 0.5-4.0<i>Å</i>", G19_SHORT, "#00FFFF", "legend2", "y"),
    ("GOES-18 0.5-4.0<i>Å</i>", G18_SHORT, "#0000FF", "legend2", "y2"),
]

FONT = "DejaVu Sans"
LINE_W = 1.7


def hours_to_time(h):
    return START + pd.Timedelta(hours=h)


def to_xy(series):
    xs = [hours_to_time(t) for t, _ in series]
    ys = [None if v is None else 10.0 ** v for _, v in series]
    return xs, ys


fig = go.Figure()
for name, data, color, leg, yax in SERIES:
    xs, ys = to_xy(data)
    fig.add_trace(go.Scatter(
        x=xs, y=ys, mode="lines", name=name, legend=leg, yaxis=yax,
        line=dict(color=color, width=LINE_W), connectgaps=False, hoverinfo="skip",
    ))

minor_left = [k * 10.0 ** n for n in range(-9, -2) for k in range(2, 10)]
minor_right = [k * 10.0 ** n for n in range(-9, -2) for k in range(1, 10)]

fig.update_layout(
    width=2000, height=650,
    margin=dict(l=100, r=60, t=16, b=89),
    paper_bgcolor="white", plot_bgcolor="white",
    font=dict(family=FONT, size=20, color="black"),
    xaxis=dict(
        type="date",
        range=[hours_to_time(0), hours_to_time(72)],
        tickmode="array",
        tickvals=[hours_to_time(h) for h in X_TICK_HOURS],
        ticktext=X_TICK_TEXT,
        ticks="inside", ticklen=7, tickcolor="black",
        showgrid=False, zeroline=False,
        showline=True, linecolor="black", linewidth=1, mirror=True,
        tickfont=dict(size=20),
        title=dict(text="Time (UTC)", font=dict(size=20), standoff=6),
    ),
    yaxis=dict(
        type="log", range=[-9, -2],
        tickmode="array",
        tickvals=[10.0 ** e for e in Y_TICK_EXP],
        ticktext=["10<sup>\u2212%d</sup>" % (-e) for e in Y_TICK_EXP],
        ticks="inside", ticklen=8, tickcolor="black",
        showgrid=True, gridcolor="#b0b0b0", gridwidth=1,
        zeroline=False, showline=True, linecolor="black", linewidth=1,
        minor=dict(tickmode="array", tickvals=minor_left, ticks="inside",
                   ticklen=5, tickcolor="black", showgrid=False),
        tickfont=dict(size=20),
        title=dict(text="Flux (Watts \u00b7 m<sup>\u22122</sup>)", font=dict(size=20), standoff=8),
    ),
    yaxis2=dict(
        type="log", range=[-9, -2], overlaying="y", side="right", anchor="x",
        tickmode="array",
        tickvals=[10.0 ** e for e in CLASS_EXP],
        ticktext=CLASS_TEXT,
        ticks="inside", ticklen=8, tickcolor="black",
        showgrid=False, zeroline=False,
        showline=True, linecolor="black", linewidth=1,
        minor=dict(tickmode="array", tickvals=minor_right, ticks="inside",
                   ticklen=5, tickcolor="black", showgrid=False),
        tickfont=dict(size=20),
        title=dict(text="GOES Class", font=dict(size=20), standoff=4),
    ),
    legend=dict(x=0.401, y=0.985, xanchor="left", yanchor="top",
                bgcolor="rgba(0,0,0,0)", borderwidth=0,
                font=dict(size=14), itemwidth=30, tracegroupgap=0),
    legend2=dict(x=0.506, y=0.985, xanchor="left", yanchor="top",
                 bgcolor="rgba(0,0,0,0)", borderwidth=0,
                 font=dict(size=14), itemwidth=30, tracegroupgap=0),
    showlegend=True,
)

# day-boundary vertical lines
for h in DAY_LINES_H:
    fig.add_shape(type="line", xref="x", yref="paper",
                  x0=hours_to_time(h), x1=hours_to_time(h), y0=0, y1=1,
                  line=dict(color="black", width=1.2), layer="above")

# legend frame
fig.add_shape(type="rect", xref="paper", yref="paper",
              x0=0.4005, x1=0.6005, y0=0.875, y1=0.987,
              line=dict(color="#d0d0d0", width=1),
              fillcolor="rgba(255,255,255,0.8)", layer="below")

fig.add_annotation(xref="paper", yref="paper", x=0.9864, y=0.034,
                   xanchor="right", yanchor="middle", showarrow=False,
                   text="SolarMonitor.org : 04-Jun-2026 00:30 UTC",
                   font=dict(size=15, color="black", family=FONT))

fig.write_html("out.html")
